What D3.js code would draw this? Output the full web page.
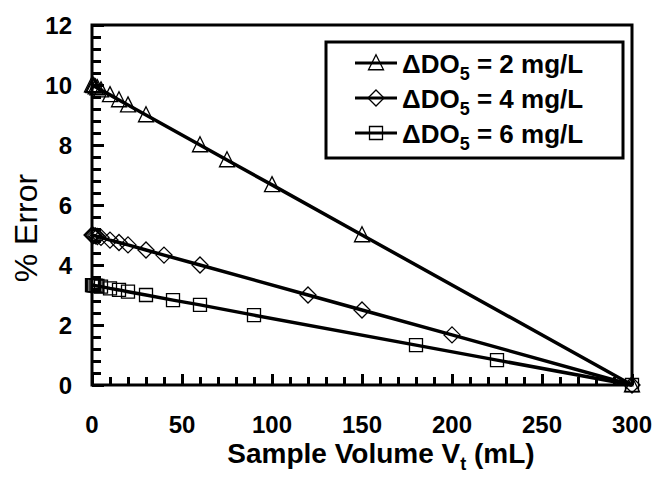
<!DOCTYPE html>
<html>
<head>
<meta charset="utf-8">
<script src="https://cdn.jsdelivr.net/npm/d3@7"></script>
<style>
  body { margin: 0; background: #fff; }
  svg { display: block; font-family: "Liberation Sans", Arial, sans-serif; }
</style>
</head>
<body>
<div id="container"></div>
<script>
// chart data
var volTri = [0, 0.5, 1, 2, 3, 5, 10, 15, 20, 30, 60, 75, 100, 150, 300];
var errTri = [10, 9.98, 9.97, 9.93, 9.9, 9.83, 9.67, 9.5, 9.33, 9.0, 8.0, 7.5, 6.67, 5.0, 0];

var volDia = [0, 0.5, 1, 2, 3, 5, 10, 15, 20, 30, 40, 60, 120, 150, 200, 300];
var errDia = [5, 4.99, 4.98, 4.97, 4.95, 4.92, 4.83, 4.75, 4.67, 4.5, 4.33, 4.0, 3.0, 2.5, 1.67, 0];

var volSq = [0, 0.5, 1, 2, 3, 5, 10, 15, 20, 30, 45, 60, 90, 180, 225, 300];
var errSq = [3.33, 3.33, 3.32, 3.31, 3.3, 3.28, 3.22, 3.17, 3.11, 3.0, 2.83, 2.67, 2.33, 1.33, 0.83, 0];

var seriesNames = ["2", "4", "6"];
var xTicks = [0, 50, 100, 150, 200, 250, 300];
var yTicks = [0, 2, 4, 6, 8, 10, 12];
var xMinor = [10, 20, 30, 40, 60, 70, 80, 90, 110, 120, 130, 140, 160, 170, 180, 190,
              210, 220, 230, 240, 260, 270, 280, 290];
var yMinor = [0.4, 0.8, 1.2, 1.6, 2.4, 2.8, 3.2, 3.6, 4.4, 4.8, 5.2, 5.6, 6.4, 6.8, 7.2, 7.6,
              8.4, 8.8, 9.2, 9.6, 10.4, 10.8, 11.2, 11.6];

// dimensions
var w = 656, h = 489;
var margin = {top: 25, right: 24, bottom: 104, left: 92};
var pw = w - margin.left - margin.right,
    ph = h - margin.top - margin.bottom;

var svg = d3.select("div#container")
  .append("svg")
  .attr("width", w)
  .attr("height", h);

var g = svg.append("g")
  .attr("transform", `translate(${margin.left},${margin.top})`);

var x = d3.scaleLinear().domain([0, 300]).range([0, pw]);
var y = d3.scaleLinear().domain([0, 12]).range([ph, 0]);

// marker shapes
function tri(s) { return `M0,${-s*0.55}L${s/2},${s*0.45}L${-s/2},${s*0.45}Z`; }
function dia(s) { return `M0,${-s/2}L${s/2},0L0,${s/2}L${-s/2},0Z`; }
function sq(s) { return `M${-s/2},${-s/2}h${s}v${s}h${-s}Z`; }

var series = [
  {vol: volTri, err: errTri, shape: tri, size: 15},
  {vol: volDia, err: errDia, shape: dia, size: 16},
  {vol: volSq, err: errSq, shape: sq, size: 13}
];

// frame
g.append("path")
  .attr("d", `M0,0H${pw}V${ph}H0Z`)
  .attr("fill", "none").attr("stroke", "#000").attr("stroke-width", 3);

// inward ticks via axis generators
function styleAxis(sel) {
  sel.select(".domain").remove();
  sel.selectAll(".tick line").attr("stroke", "#000").attr("stroke-width", 3);
}

g.append("g")
  .call(d3.axisLeft(y).tickValues(yMinor).tickSize(-9).tickFormat(""))
  .call(styleAxis);
g.append("g")
  .call(d3.axisLeft(y).tickValues(yTicks).tickSize(-12).tickFormat(""))
  .call(styleAxis);
g.append("g")
  .attr("transform", `translate(0,${ph})`)
  .call(d3.axisBottom(x).tickValues(xMinor).tickSize(-8).tickFormat(""))
  .call(styleAxis);
g.append("g")
  .attr("transform", `translate(0,${ph})`)
  .call(d3.axisBottom(x).tickValues(xTicks).tickSize(-11).tickFormat(""))
  .call(styleAxis);

// tick labels
g.append("g").selectAll("text").data(yTicks).join("text")
  .attr("x", -20).attr("y", function(d) { return y(d); })
  .attr("dy", "0.36em")
  .attr("text-anchor", "end")
  .attr("font-size", 24).attr("font-weight", "bold")
  .text(function(d) { return d; });

g.append("g").selectAll("text").data(xTicks).join("text")
  .attr("x", function(d) { return x(d); }).attr("y", ph + 48)
  .attr("text-anchor", "middle")
  .attr("font-size", 24).attr("font-weight", "bold")
  .text(function(d) { return d; });

// lines and markers
var line = d3.line()
  .x(function(d) { return x(d[0]); })
  .y(function(d) { return y(d[1]); });

series.forEach(function(s) {
  var pts = s.vol.map(function(v, i) { return [v, s.err[i]]; });
  g.append("path")
    .attr("d", line(pts))
    .attr("fill", "none").attr("stroke", "#000").attr("stroke-width", 3.5);
  g.append("g").selectAll("path").data(pts).join("path")
    .attr("transform", function(d) { return `translate(${x(d[0])},${y(d[1])})`; })
    .attr("d", s.shape(s.size))
    .attr("fill", "none").attr("stroke", "#000").attr("stroke-width", 1.3);
});

// legend
var lg = svg.append("g").attr("transform", "translate(326,42)");
lg.append("rect")
  .attr("width", 297).attr("height", 116)
  .attr("fill", "#fff").attr("stroke", "#000").attr("stroke-width", 3);

series.forEach(function(s, i) {
  var cy = 21 + i * 35;
  lg.append("line")
    .attr("x1", 29).attr("x2", 71).attr("y1", cy).attr("y2", cy)
    .attr("stroke", "#000").attr("stroke-width", 3);
  lg.append("path")
    .attr("transform", `translate(50,${cy})`)
    .attr("d", s.shape(s.size))
    .attr("fill", "none").attr("stroke", "#000").attr("stroke-width", 1.3);
  var t = lg.append("text")
    .attr("x", 76).attr("y", cy + 10)
    .attr("font-size", 26).attr("font-weight", "bold");
  t.append("tspan").text("\u0394DO");
  t.append("tspan").attr("font-size", 18).attr("dy", 7).text("5");
  t.append("tspan").attr("dy", -7).text(" = " + seriesNames[i] + " mg/L");
});

// axis titles
svg.append("text")
  .attr("transform", "translate(37,228) rotate(-90)")
  .attr("text-anchor", "middle")
  .attr("font-size", 32)
  .text("% Error");

var xt = svg.append("text")
  .attr("x", 381).attr("y", 463)
  .attr("text-anchor", "middle")
  .attr("font-size", 28).attr("font-weight", "bold");
xt.append("tspan").text("Sample Volume V");
xt.append("tspan").attr("font-size", 18).attr("dy", 7).text("t");
xt.append("tspan").attr("dy", -7).text(" (mL)");
</script>
</body>
</html>
